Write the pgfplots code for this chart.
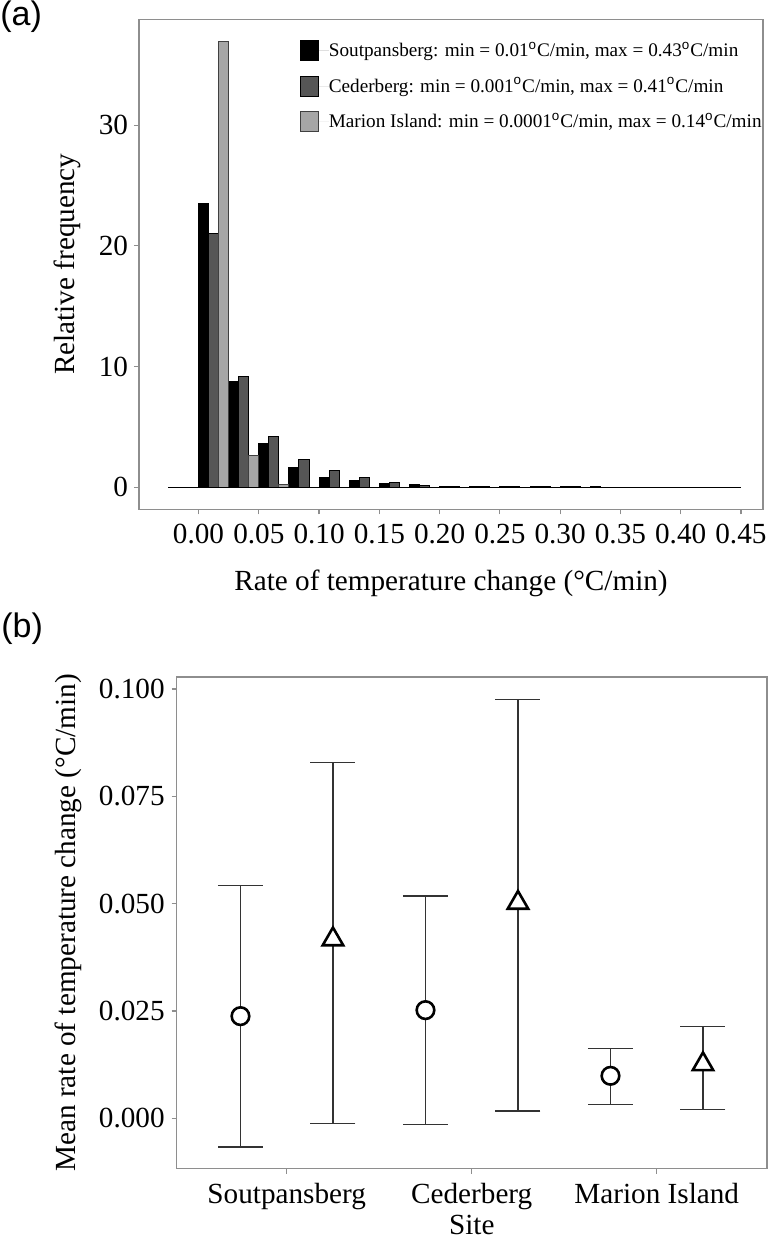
\documentclass[border=0pt]{standalone}
\usepackage{fontspec}
\setmainfont{Liberation Serif}
\newfontfamily\panelfont{Liberation Sans}
\usepackage{pgfplots}
\pgfplotsset{compat=1.18}
\definecolor{framegray}{HTML}{8E8E8E}
\definecolor{cedgray}{HTML}{565656}
\definecolor{margray}{HTML}{A6A6A6}
\definecolor{errgray}{HTML}{333333}
\newcommand{\degsup}{\textsuperscript{\panelfont o}}
\newcommand{\labsize}{\fontsize{14.6}{17}\selectfont}

\begin{document}
\begin{tikzpicture}
\path[use as bounding box] (0pt,0pt) rectangle (385pt,-619pt);
\node[anchor=north west, inner sep=0pt, font=\panelfont\fontsize{17}{19}\selectfont] at (0pt,0pt) {(a)};
\node[anchor=north west, inner sep=0pt, font=\panelfont\fontsize{17}{19}\selectfont] at (0.5pt,-306pt) {(b)};

% (a) histogram
\begin{axis}[
  at={(69.5pt,-9.65pt)}, anchor=north west,
  scale only axis, width=312pt, height=245pt,
  xmin=-0.0494, xmax=0.4683, ymin=-1.82, ymax=38.77,
  axis line style={draw=framegray, line width=0.6pt},
  tick style={draw=framegray, line width=0.6pt},
  tick align=outside, xtick pos=bottom, ytick pos=left,
  major tick length=2.5pt,
  xtick={0,0.05,0.10,0.15,0.20,0.25,0.30,0.35,0.40,0.45},
  ytick={0,10,20,30},
  xticklabel style={yshift=-1.5pt, /pgf/number format/.cd, fixed, fixed zerofill, precision=2},
  yticklabel style={inner xsep=2.8pt},
  /pgf/number format/assume math mode=true,
  tick label style={font=\labsize},
  label style={font=\labsize},
  xlabel={Rate of temperature change (°C/min)},
  xlabel style={at={(axis description cs:0.5,-0.1647)}, anchor=base},
  ylabel={Relative frequency},
  ylabel style={at={(axis description cs:-0.1026,0.5)}, anchor=base},
  legend style={at={(0.258,0.958)}, anchor=north west, draw=none, fill=none,
    font=\fontsize{9.6}{11}\selectfont, row sep=7.3pt, inner sep=0pt,
    nodes={inner sep=0pt}},
  legend cell align=left,
  legend image code/.code={\path[draw=none] (0pt,0pt) -- (14pt,0pt); \draw[#1] (0pt,-5pt) rectangle (9pt,5pt);},
]
\addplot[ybar, bar width=0.008333, bar shift=0pt, fill=black, draw=black, line width=0.5pt]
  coordinates {
    (0.0042,23.5) (0.0292,8.76) (0.0542,3.66) (0.0792,1.68) (0.1042,0.80)
    (0.1292,0.53) (0.1542,0.31) (0.1792,0.20) (0.2042,0.10) (0.2292,0.07)
    (0.2542,0.08) (0.2792,0.05) (0.3042,0.04) (0.3292,0.03) (0.3542,0.02)
    (0.3792,0.02) (0.4042,0.02) (0.4292,0.01)};
\addlegendentry{Soutpansberg: min = 0.01\degsup C/min, max = 0.43\degsup C/min}
\addplot[ybar, bar width=0.008333, bar shift=0pt, fill=cedgray, draw=black, line width=0.5pt]
  coordinates {
    (0.0125,21.0) (0.0375,9.17) (0.0625,4.21) (0.0875,2.34) (0.1125,1.40)
    (0.1375,0.84) (0.1625,0.39) (0.1875,0.15) (0.2125,0.07) (0.2375,0.05)
    (0.2625,0.05) (0.2875,0.04) (0.3125,0.03) (0.3375,0.02) (0.3625,0.01)
    (0.3875,0.01) (0.4125,0.01)};
\addlegendentry{Cederberg: min = 0.001\degsup C/min, max = 0.41\degsup C/min}
\addplot[ybar, bar width=0.008333, bar shift=0pt, fill=margray, draw=black!75, line width=0.5pt]
  coordinates {(0.0208,36.9) (0.0458,2.67) (0.0708,0.25)};
\addlegendentry{Marion Island: min = 0.0001\degsup C/min, max = 0.14\degsup C/min}
\addplot[black, line width=0.8pt, forget plot] coordinates {(-0.025,0) (0.45,0)};
\end{axis}

% (b) means with error bars
\begin{axis}[
  at={(88.35pt,-338.5pt)}, anchor=north west,
  scale only axis, width=295.15pt, height=245.85pt,
  xmin=0.4054, xmax=3.596, ymin=-0.01174, ymax=0.1028,
  axis line style={draw=framegray, line width=0.6pt},
  tick style={draw=framegray, line width=0.6pt},
  tick align=outside, xtick pos=bottom, ytick pos=left,
  major tick length=2.5pt,
  xtick={1,2,3}, xticklabels={Soutpansberg, Cederberg, Marion Island},
  xticklabel style={yshift=-1pt},
  ytick={0,0.025,0.05,0.075,0.1},
  yticklabel style={/pgf/number format/.cd, fixed, fixed zerofill, precision=3},
  /pgf/number format/assume math mode=true,
  tick label style={font=\labsize},
  label style={font=\labsize},
  xlabel={Site},
  xlabel style={at={(axis description cs:0.5,-0.1328)}, anchor=base},
  ylabel={Mean rate of temperature change (°C/min)},
  ylabel style={at={(axis description cs:-0.172,0.5)}, anchor=base},
]
\addplot[draw=none, forget plot,
  error bars/.cd, y dir=both, y explicit,
  error bar style={draw=errgray, line width=0.55pt},
  error mark options={rotate=90, draw=errgray, line width=0.6pt, mark size=11.25pt}]
  coordinates {
    (0.75,0.0238) += (0,0.0305) -= (0,0.0305)
    (1.25,0.0417) += (0,0.0412) -= (0,0.0429)
    (1.75,0.0252) += (0,0.0266) -= (0,0.0266)
    (2.25,0.0502) += (0,0.0473) -= (0,0.0485)
    (2.75,0.0099) += (0,0.0063) -= (0,0.0066)
    (3.25,0.0126) += (0,0.0087) -= (0,0.0105)};
\addplot[only marks, mark=*, mark size=4.4pt,
  mark options={fill=white, draw=black, line width=1.3pt}]
  coordinates {(0.75,0.0238) (1.75,0.0252) (2.75,0.0099)};
\addplot[only marks, mark=triangle*, mark size=5.9pt,
  mark options={fill=white, draw=black, line width=1.3pt}]
  coordinates {(1.25,0.0417) (2.25,0.0502) (3.25,0.0126)};
\end{axis}
\end{tikzpicture}
\end{document}
